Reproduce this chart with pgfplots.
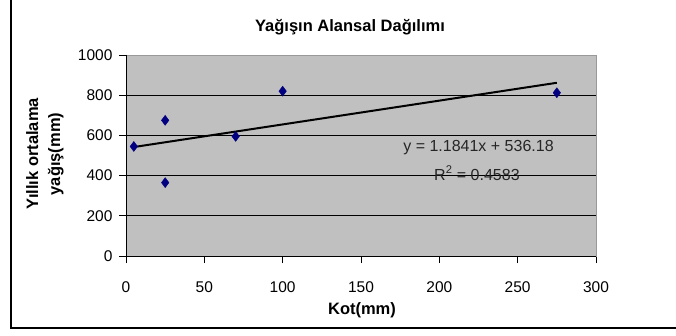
\documentclass[border=0pt]{standalone}
\usepackage{pgfplots}
\pgfplotsset{compat=1.18}
\usepackage{fontspec}
\setmainfont{Liberation Sans}
\definecolor{plotbg}{RGB}{192,192,192}
\definecolor{navymark}{RGB}{0,0,128}
\begin{document}
\begin{tikzpicture}[x=1pt,y=1pt]
\path[use as bounding box] (0pt,0pt) rectangle (676pt,335pt);
\draw[black, line width=1.2pt] (11pt,335pt) -- (11pt,7pt) -- (676pt,7pt);
\begin{axis}[
  at={(126pt,79pt)}, anchor=south west,
  scale only axis, width=470pt, height=201pt,
  xmin=0, xmax=300, ymin=0, ymax=1000,
  xtick={0,50,...,300}, ytick={0,200,...,1000},
  xtick pos=lower, ytick pos=left,
  tick align=outside, major tick length=7pt,
  tick style={black, line width=0.8pt},
  axis background/.style={fill=plotbg},
  axis line style={draw=gray!80, line width=0.8pt},
  ymajorgrids, major grid style={black, line width=0.9pt},
  /pgf/number format/assume math mode=true,
  /pgf/number format/set thousands separator={},
  ticklabel style={font=\fontsize{15.5}{18}\selectfont},
  xticklabel style={yshift=-15pt},
  yticklabel style={xshift=-3pt},
  clip=false,
]
\addplot[black, line width=2pt] coordinates {(5,542.1) (275,861.8)};
\addplot[only marks, mark=diamond*, mark size=5pt, mark options={fill=navymark, draw=navymark}] coordinates {
(5,545) (25,675) (25,365) (70,595) (100,820) (275,812)};
\draw[black, line width=1pt] (axis cs:0,1000) -- (axis cs:0,0) -- (axis cs:300,0);
\node[font=\fontsize{16}{19}\selectfont, text=black!85] at (axis cs:225,540) {y = 1.1841x + 536.18};
\node[font=\fontsize{16}{19}\selectfont, text=black!85] at (axis cs:224,412) {R\textsuperscript{2} = 0.4583};
\end{axis}
\node[font=\fontsize{16.5}{19}\selectfont\bfseries] at (350pt,308pt) {Yağışın Alansal Dağılımı};
\node[font=\fontsize{16.5}{19}\selectfont\bfseries] at (362pt,25pt) {Kot(mm)};
\node[font=\fontsize{16.5}{22}\selectfont\bfseries, rotate=90, align=center] at (45pt,181pt) {Yıllık ortalama\\yağış(mm)};
\end{tikzpicture}
\end{document}
